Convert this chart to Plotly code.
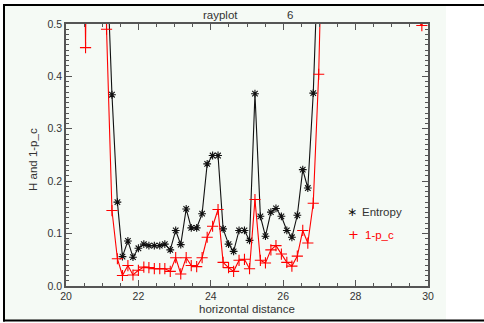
import plotly.graph_objects as go

# ---- data ----
x_dist = [20.39, 20.54, 20.68, 20.83, 20.98, 21.12, 21.27, 21.42, 21.56, 21.71,
          21.85, 22.00, 22.15, 22.29, 22.44, 22.59, 22.73, 22.88, 23.03, 23.17,
          23.32, 23.46, 23.61, 23.76, 23.90, 24.05, 24.20, 24.34, 24.49, 24.63,
          24.78, 24.93, 25.07, 25.22, 25.37, 25.51, 25.66, 25.80, 25.95, 26.10,
          26.24, 26.39, 26.54, 26.68, 26.83, 26.98, 27.12, 27.27, 27.41, 27.56,
          27.71, 27.85, 28.00, 28.15, 28.29, 28.44, 28.58, 28.73, 28.88, 29.02,
          29.17, 29.32, 29.46, 29.63, 29.83, 29.97]

entropy = [1.5, 1.5, 1.5, 1.5, 1.5, 0.64, 0.365, 0.160, 0.056, 0.086,
           0.055, 0.072, 0.080, 0.077, 0.077, 0.077, 0.080, 0.069, 0.106, 0.079,
           0.147, 0.111, 0.111, 0.138, 0.233, 0.249, 0.249, 0.109, 0.080, 0.066,
           0.106, 0.106, 0.087, 0.367, 0.133, 0.095, 0.141, 0.148, 0.133, 0.106,
           0.093, 0.135, 0.222, 0.187, 0.368, 0.95, 1.5, 1.5, 1.5, 1.5,
           1.5, 1.5, 1.5, 1.5, 1.5, 1.5, 1.5, 1.5, 1.5, 1.5,
           1.5, 1.5, 1.5, 1.5, 1.5, 1.5]

one_minus_pc = [1.5, 0.455, 1.5, 1.5, 1.5, 0.49, 0.144, 0.052, 0.020, 0.039,
                0.021, 0.030, 0.036, 0.035, 0.033, 0.033, 0.033, 0.028, 0.054, 0.023,
                0.054, 0.039, 0.037, 0.054, 0.093, 0.114, 0.146, 0.045, 0.035, 0.028,
                0.049, 0.051, 0.033, 0.165, 0.049, 0.044, 0.069, 0.077, 0.061, 0.045,
                0.038, 0.057, 0.106, 0.082, 0.158, 0.404, 0.80, 1.5, 1.5, 1.5,
                1.5, 1.5, 1.5, 1.5, 1.5, 1.5, 1.5, 1.5, 1.5, 1.5,
                0.515, 0.515, 0.515, 0.512, 0.497, 0.55]

x_ticks = [20, 22, 24, 26, 28, 30]
y_ticks = [0.0, 0.1, 0.2, 0.3, 0.4, 0.5]

# ---- layout geometry (pixels) ----
W, H = 484, 323
ML, MR, MT, MB = 66, 56, 24, 37
PW, PH = W - ML - MR, H - MT - MB


def px(xp):
    return (xp - ML) / PW


def py(yp):
    return (H - MB - yp) / PH


BG = "#f5faf5"
TXT = "#333333"
FONT = "Liberation Sans, Arial, sans-serif"

fig = go.Figure()
fig.add_trace(go.Scatter(
    x=x_dist, y=entropy, mode="lines+markers", name="Entropy",
    line=dict(color="#111111", width=1.1),
    marker=dict(symbol="asterisk-open", size=6.5, color="#111111",
                line=dict(color="#111111", width=1.1)),
    showlegend=False))
fig.add_trace(go.Scatter(
    x=x_dist, y=one_minus_pc, mode="lines+markers", name="1-p_c",
    line=dict(color="#ff0000", width=1.1),
    marker=dict(symbol="cross-thin-open", size=8, color="#ff0000",
                line=dict(color="#ff0000", width=1.1)),
    showlegend=False))

axis_common = dict(
    showgrid=False, zeroline=False, showline=True, linecolor="#555555",
    linewidth=1.5, mirror="allticks", ticks="inside", tickcolor="#555555",
    tickwidth=1, tickfont=dict(family=FONT, size=10.5, color=TXT),
)

fig.update_xaxes(range=[20, 30], tickvals=x_ticks,
                 ticktext=[str(v) for v in x_ticks], ticklen=6,
                 minor=dict(dtick=0.5, tick0=20, ticks="inside", ticklen=3,
                            tickcolor="#555555"),
                 **axis_common)
fig.update_yaxes(range=[0, 0.5], tickvals=y_ticks,
                 ticktext=[f"{v:.1f}" for v in y_ticks], ticklen=6,
                 minor=dict(dtick=0.01, tick0=0, ticks="inside", ticklen=3,
                            tickcolor="#555555"),
                 **axis_common)

shapes = [
    dict(type="rect", xref="paper", yref="paper", x0=px(4), x1=px(446),
         y0=py(320), y1=py(6), fillcolor=BG, line=dict(width=0), layer="below"),
    dict(type="line", xref="paper", yref="paper", x0=px(3), x1=px(484),
         y0=py(5), y1=py(5), line=dict(color="black", width=2)),
    dict(type="line", xref="paper", yref="paper", x0=px(3), x1=px(484),
         y0=py(320.5), y1=py(320.5), line=dict(color="black", width=2)),
    dict(type="line", xref="paper", yref="paper", x0=px(4), x1=px(4),
         y0=py(4), y1=py(321.5), line=dict(color="black", width=2)),
]

ann = [
    dict(text="rayplot", x=px(220), y=py(15)),
    dict(text="6", x=px(289.5), y=py(15)),
    dict(text="horizontal distance", x=px(247), y=py(309)),
    dict(text="H and 1-p_c", x=px(33), y=py(160), textangle=-90),
    dict(text="Entropy", x=px(360), y=py(211.5), xanchor="left"),
    dict(text="1-p_c", x=px(363), y=py(234.5), xanchor="left",
         font=dict(family=FONT, size=11.5, color="#ff0000")),
    dict(text="\u2217", x=px(352), y=py(211.5),
         font=dict(family="DejaVu Sans", size=12, color="#111111")),
    dict(text="+", x=px(353), y=py(234.5),
         font=dict(family="DejaVu Sans", size=13, color="#ff0000")),
]
annotations = []
for a in ann:
    d = dict(xref="paper", yref="paper", showarrow=False,
             xanchor="center", yanchor="middle",
             font=dict(family=FONT, size=11.5, color=TXT))
    d.update(a)
    annotations.append(d)

fig.update_layout(
    width=W, height=H,
    margin=dict(l=ML, r=MR, t=MT, b=MB, pad=0),
    paper_bgcolor="white", plot_bgcolor=BG,
    shapes=shapes, annotations=annotations,
    showlegend=False,
)

fig.write_html("out.html")
